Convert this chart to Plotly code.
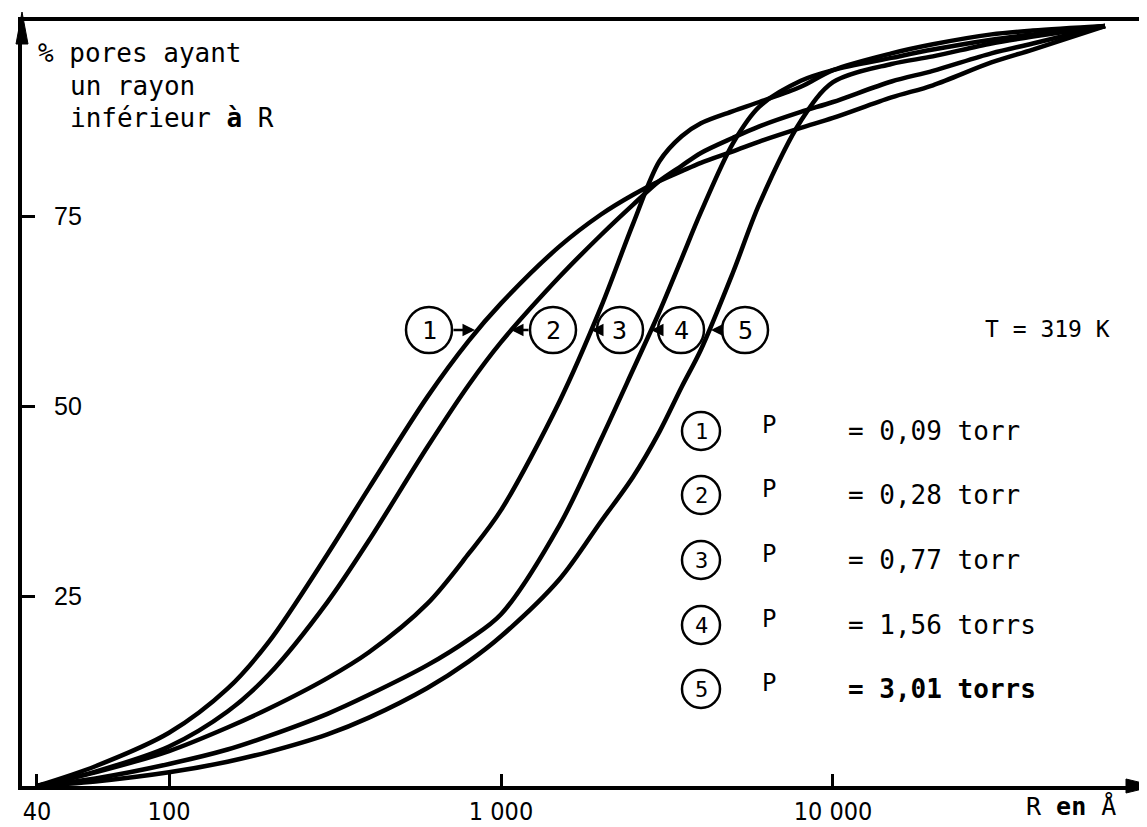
import plotly.graph_objects as go

# cumulative pore distribution
# R = pore radius (Angstrom), P = % of pores with radius below R
R_grid = [40, 60, 100, 150, 200, 300, 400, 600, 800, 1000, 1500, 2000, 2500, 3000, 3500, 4000, 5000, 6000,
          8000, 10000, 15000, 20000, 30000, 40000, 66000]

P1 = [0, 2.6, 7.0, 12.8, 19.0, 30.5, 39.2, 51.2, 58.6, 63.5, 71.0, 75.2, 77.8, 79.6, 80.9, 82.0, 83.5, 84.8,
      86.6, 87.9, 90.6, 92.2, 95.2, 96.9, 100]
P2 = [0, 1.9, 5.2, 9.8, 14.7, 24.2, 32.3, 44.6, 52.8, 58.4, 67.0, 72.5, 76.5, 79.6, 81.6, 83.3, 85.3, 86.8,
      88.7, 90.0, 92.7, 94.1, 96.4, 97.7, 100]
P3 = [0, 1.8, 4.6, 7.7, 10.2, 14.2, 17.6, 24.0, 30.6, 36.3, 50.6, 63.0, 74.0, 82.2, 85.5, 87.2, 88.8, 90.0,
      92.0, 94.2, 96.4, 97.6, 98.9, 99.4, 100]
P4 = [0, 1.0, 2.9, 4.8, 6.6, 9.5, 12.0, 15.9, 19.3, 22.6, 34.3, 45.6, 54.8, 62.4, 69.4, 75.5, 84.6, 89.4,
      92.8, 94.2, 95.8, 96.9, 98.2, 98.9, 100]
P5 = [0, 0.6, 1.8, 3.2, 4.5, 6.8, 9.0, 12.9, 16.4, 19.7, 27.2, 34.8, 40.7, 46.6, 52.5, 57.4, 67.6, 76.6,
      87.5, 92.6, 95.0, 96.0, 97.7, 98.6, 100]

series = [P1, P2, P3, P4, P5]

x_ticks = [40, 100, 1000, 10000]
x_ticktext = ["40", "100", "1 000", "10 000"]
y_ticks = [25, 50, 75]

pressures = ["= 0,09 torr", "= 0,28 torr", "= 0,77 torr", "= 1,56 torrs", "<b>= 3,01 torrs</b>"]
labels = ["1", "2", "3", "4", "5"]

W, H = 1147, 827
L, R, T, B = 14, 0, 13, 49
PW, PH = W - L - R, H - T - B
MONO = "DejaVu Sans Mono, Liberation Mono, monospace"


def px(x):
    return (x - L) / PW


def py(y):
    return (H - B - y) / PH


def note(x, y, text, size=26, xanchor="left", family=MONO):
    return dict(xref="paper", yref="paper", x=x, y=y, text=text, showarrow=False,
                xanchor=xanchor, yanchor="middle", font=dict(family=family, size=size, color="black"))


fig = go.Figure()
for p in series:
    fig.add_trace(go.Scatter(x=R_grid, y=p, mode="lines",
                             line=dict(color="black", width=4.5, shape="spline", smoothing=0.9),
                             showlegend=False, hoverinfo="skip"))

shapes = []
annotations = []

# circled labels on the 60 % line, with little arrows to their curve
row_y = 322
row_cx = [421, 545, 612, 673, 737]
arrow = [(444, 467), (522, 503), (589, 583), (650, 643), (714, 703)]
for lab, cx, (tail, tip) in zip(labels, row_cx, arrow):
    shapes.append(dict(type="circle", xref="paper", yref="paper", x0=px(cx - 23), x1=px(cx + 23),
                       y0=py(row_y + 23), y1=py(row_y - 23), line=dict(color="black", width=2.5)))
    annotations.append(note(px(cx), py(row_y), lab, size=25, xanchor="center"))
    annotations.append(dict(xref="paper", yref="paper", x=px(tip), y=py(row_y), text="", showarrow=True,
                            ax=tail - tip, ay=0, arrowhead=2, arrowsize=1, arrowwidth=2.5, arrowcolor="black"))

# legend block
leg_y = [423, 487, 552, 617, 681]
for lab, yy, txt in zip(labels, leg_y, pressures):
    shapes.append(dict(type="circle", xref="paper", yref="paper", x0=px(693 - 19), x1=px(693 + 19),
                       y0=py(yy + 19), y1=py(yy - 19), line=dict(color="black", width=2.5)))
    annotations.append(note(px(693), py(yy), lab, size=22, xanchor="center"))
    annotations.append(note(px(752), py(yy - 6), "P", size=24))
    annotations.append(note(px(838), py(yy), txt))

annotations.append(note(px(975), py(321), "T = 319 K", size=23))

# y axis caption
for x0, yy, txt in [(28, 45, "% pores ayant"), (60, 78, "un rayon"), (60, 110, "inférieur <b>à</b> R")]:
    annotations.append(note(px(x0), py(yy), txt))

annotations.append(note(px(1016), py(799), "R <b>en</b> Å", size=25))

# y tick labels sit inside the frame, right of the tick marks
for v in y_ticks:
    annotations.append(dict(xref="paper", yref="y", x=px(44), y=v, text=str(v), showarrow=False,
                            xanchor="left", yanchor="middle",
                            font=dict(family="Liberation Sans, Arial, sans-serif", size=25, color="black")))

# arrow heads at the ends of the axes
shapes.append(dict(type="path", xref="paper", yref="paper", fillcolor="black", line=dict(color="black", width=1),
                   path=f"M {px(14)},{py(4)} L {px(8)},{py(36)} L {px(20)},{py(36)} Z"))
shapes.append(dict(type="path", xref="paper", yref="paper", fillcolor="black", line=dict(color="black", width=1),
                   path=f"M {px(1147)},{py(778)} L {px(1118)},{py(771)} L {px(1118)},{py(785)} Z"))

fig.update_layout(
    width=W, height=H,
    margin=dict(l=L, r=R, t=T, b=B, autoexpand=False),
    plot_bgcolor="white", paper_bgcolor="white",
    shapes=shapes, annotations=annotations,
    xaxis=dict(type="log", range=[1.557, 4.970], showgrid=False, zeroline=False,
               showline=True, linecolor="black", linewidth=4, mirror=True,
               ticks="inside", ticklen=12, tickwidth=2.5, tickcolor="black",
               tickvals=x_ticks, ticktext=x_ticktext, ticklabeloverflow="allow",
               tickfont=dict(family="Liberation Sans Narrow, Arial Narrow, DejaVu Sans Condensed, Liberation Sans",
                             size=25, color="black")),
    yaxis=dict(range=[0, PH / 7.6], showgrid=False, zeroline=False,
               showline=True, linecolor="black", linewidth=4,
               ticks="inside", ticklen=13, tickwidth=3, tickcolor="black",
               tickvals=y_ticks, showticklabels=False),
)

fig.write_html("out.html")
